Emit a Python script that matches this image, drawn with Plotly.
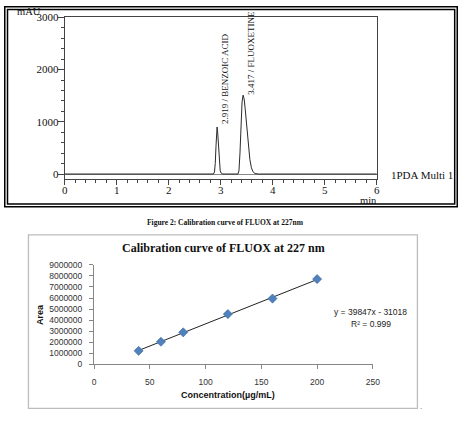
import numpy as np
import plotly.graph_objects as go

W, H = 466, 424

# ---------------- data ----------------
# chromatogram
chrom_time = [0.0, 2.05, 2.10, 2.15, 2.86, 2.88, 2.895, 2.91, 2.925, 2.93, 2.94, 2.955, 2.97,
              2.99, 3.01, 3.04, 3.33, 3.35, 3.37, 3.39, 3.41, 3.43, 3.45, 3.47, 3.50, 3.53,
              3.56, 3.59, 3.62, 3.66, 3.72, 6.0]
chrom_mau = [0, 0, 12, 0, 0, 40, 200, 550, 860, 900, 820, 500, 220,
             60, 15, 0, 0, 60, 400, 950, 1380, 1510, 1440, 1250, 900, 550,
             280, 120, 45, 10, 0, 0]
peak_labels = ["2.919 / BENZOIC ACID", "3.417 / FLUOXETINE"]

chrom_xticks = [0, 1, 2, 3, 4, 5, 6]
chrom_yticks = [0, 1000, 2000, 3000]

# calibration
conc = [40, 60, 80, 120, 160, 200]
area = [1230000, 2050000, 2900000, 4550000, 5950000, 7710000]
cal_xticks = [0, 50, 100, 150, 200, 250]
cal_yticks = [0, 1000000, 2000000, 3000000, 4000000, 5000000, 6000000, 7000000, 8000000, 9000000]

# ---------------- helpers ----------------
def px(x):
    return x / W

def py(y):
    return 1 - y / H

SERIF = "Liberation Serif, Times New Roman, DejaVu Serif, serif"
SANS = "Liberation Sans, Arial, sans-serif"

fig = go.Figure()

# chromatogram trace
fig.add_trace(go.Scatter(x=chrom_time, y=chrom_mau, mode="lines",
                         line=dict(color="#2a2a2a", width=1),
                         xaxis="x", yaxis="y", showlegend=False, hoverinfo="skip"))

# calibration trendline + points
coef = np.polyfit(conc, area, 1)
fit_x = [min(conc), max(conc)]
fit_y = list(np.polyval(coef, fit_x))
fig.add_trace(go.Scatter(x=fit_x, y=fit_y, mode="lines",
                         line=dict(color="#222222", width=1),
                         xaxis="x2", yaxis="y2", showlegend=False, hoverinfo="skip"))
fig.add_trace(go.Scatter(x=conc, y=area, mode="markers",
                         marker=dict(symbol="diamond", size=7, color="#4F81BD",
                                     line=dict(color="#3A6699", width=0.6)),
                         xaxis="x2", yaxis="y2", showlegend=False))

fig.update_layout(
    width=W, height=H, margin=dict(l=0, r=0, t=0, b=0),
    paper_bgcolor="white", plot_bgcolor="white",
    xaxis=dict(domain=[px(63), px(382)], range=[0, 6], tickvals=chrom_xticks,
               showgrid=False, zeroline=False, showline=True, linecolor="#444", linewidth=1,
               mirror=True, ticks="outside", ticklen=5, tickcolor="#444",
               ticklabelstandoff=-4,
               minor=dict(dtick=0.2, ticks="outside", ticklen=3, tickcolor="#444"),
               tickfont=dict(family=SERIF, size=11, color="#111"), anchor="y"),
    yaxis=dict(domain=[py(177.7), py(11.7)], range=[-97, 3000], tickvals=chrom_yticks,
               showgrid=False, zeroline=True, zerolinecolor="#888", zerolinewidth=1,
               showline=True, linecolor="#444", linewidth=1,
               mirror=True, ticks="outside", ticklen=6, tickcolor="#444",
               ticklabelstandoff=-3,
               minor=dict(dtick=200, ticks="outside", ticklen=3, tickcolor="#444"),
               tickfont=dict(family=SERIF, size=11, color="#111"), anchor="x"),
    xaxis2=dict(domain=[px(93), px(378)], range=[0, 250], tickvals=cal_xticks,
                showgrid=False, zeroline=False, showline=True, linecolor="#868686", linewidth=1,
                ticks="outside", ticklen=4, tickcolor="#868686",
                ticklabelstandoff=5,
                tickfont=dict(family=SANS, size=8.5, color="#333"), anchor="y2"),
    yaxis2=dict(domain=[py(368), py(265.7)], range=[0, 9000000], tickvals=cal_yticks,
                tickformat="d",
                showgrid=False, zeroline=False, showline=True, linecolor="#868686", linewidth=1,
                ticks="outside", ticklen=4, tickcolor="#868686",
                ticklabelstandoff=5,
                tickfont=dict(family=SANS, size=8.5, color="#333"), anchor="x2"),
)

shapes = [
    # top panel double border
    dict(type="rect", xref="paper", yref="paper", x0=px(1.8), x1=px(464.2), y0=py(206.2), y1=py(0.8),
         line=dict(color="black", width=1.5)),
    dict(type="rect", xref="paper", yref="paper", x0=px(4.6), x1=px(461.6), y0=py(203.2), y1=py(3.6),
         line=dict(color="black", width=1.5)),
    # bottom panel border
    dict(type="rect", xref="paper", yref="paper", x0=px(26), x1=px(423.5), y0=py(413), y1=py(235),
         line=dict(color="#BDBDBD", width=1.3)),
]
fig.update_layout(shapes=shapes)

ann = []
def add_text(x, y, text, size, family, xanchor="center", yanchor="middle", bold=False,
             angle=0, color="#111"):
    t = f"<b>{text}</b>" if bold else text
    ann.append(dict(x=px(x), y=py(y), xref="paper", yref="paper", text=t, showarrow=False,
                    xanchor=xanchor, yanchor=yanchor, textangle=angle, borderpad=0,
                    font=dict(family=family, size=size, color=color)))

# top panel texts
add_text(13, 6, "mAU", 10.5, SERIF, xanchor="left")
add_text(374, 200, "min", 10.5, SERIF)
add_text(395, 173, "1PDA Multi 1", 11, SERIF, xanchor="left")
add_text(227.5, 122, peak_labels[0], 9, SERIF, yanchor="bottom", angle=-90)
add_text(253.5, 92, peak_labels[1], 9, SERIF, yanchor="bottom", angle=-90)

# caption
add_text(227, 222, "Figure 2: Calibration curve of FLUOX at 227nm", 7.5, SERIF, bold=True)

# calibration texts
add_text(225, 248, "Calibration curve of FLUOX at 227 nm", 12, SERIF, bold=True)
add_text(38, 317, "Area", 9, SANS, bold=True, angle=-90)
add_text(230, 399, "Concentration(µg/mL)", 9, SANS, bold=True)
add_text(376, 314, "y = 39847x - 31018", 8.5, SANS, color="#222")
add_text(376.5, 326, "R² = 0.999", 8.5, SANS, color="#222")
add_text(427, 411, ".", 8, SANS, color="#555")

fig.update_layout(annotations=ann)

fig.write_html("out.html")
